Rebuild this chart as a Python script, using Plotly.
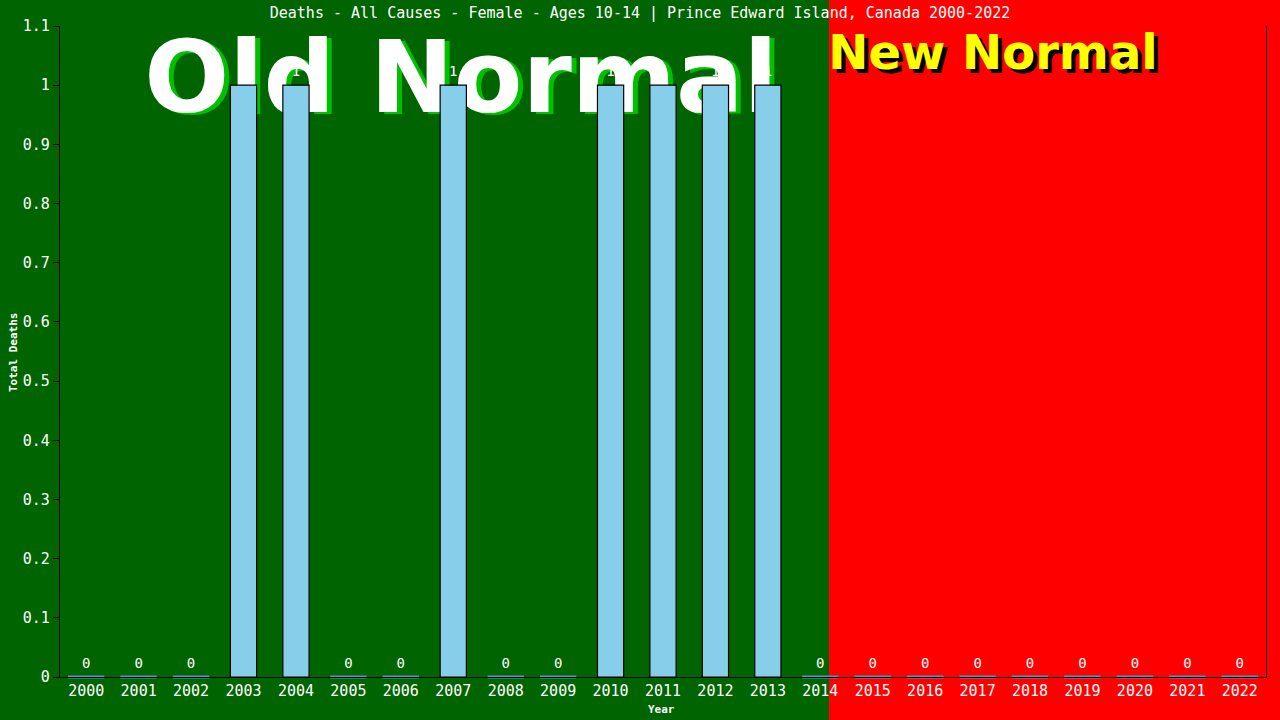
import plotly.graph_objects as go

years = [str(y) for y in range(2000, 2023)]
deaths = [0, 0, 0, 1, 1, 0, 0, 1, 0, 0, 1, 1, 1, 1, 0, 0, 0, 0, 0, 0, 0, 0, 0]
y_ticks = [0, 0.1, 0.2, 0.3, 0.4, 0.5, 0.6, 0.7, 0.8, 0.9, 1, 1.1]
title_text = "Deaths - All Causes - Female - Ages 10-14 | Prince Edward Island, Canada 2000-2022"
x_title = "Year"
y_title = "Total Deaths"

W, H = 1280, 720
ML, MR, MT, MB = 60, 14, 26, 43
PW, PH = W - ML - MR, H - MT - MB

def px_x(p):
    return (p - ML) / PW

def px_y(p):
    return (H - MB - p) / PH

MONO = "DejaVu Sans Mono"
BIG = "DejaVu Sans"

zero_years = [y for y, v in zip(years, deaths) if v == 0]
zero_vals = [v for v in deaths if v == 0]

fig = go.Figure()
fig.add_trace(go.Bar(
    x=years, y=deaths, width=0.5,
    marker=dict(color="#87CEEB", line=dict(color="black", width=1.2)),
    hoverinfo="skip", showlegend=False,
))
fig.add_trace(go.Scatter(
    x=zero_years, y=zero_vals, mode="markers",
    marker=dict(symbol="line-ew", size=26, line=dict(color="#4f94cd", width=3)),
    cliponaxis=False, hoverinfo="skip", showlegend=False,
))
fig.add_trace(go.Scatter(
    x=years, y=deaths, mode="markers+text", text=[str(v) for v in deaths],
    textposition="top center",
    marker=dict(size=8, color="rgba(0,0,0,0)"),
    textfont=dict(family=MONO, size=14, color="white"),
    cliponaxis=False, hoverinfo="skip", showlegend=False,
))

shapes = []
# red "new normal" region
shapes.append(dict(type="rect", xref="paper", yref="paper",
                   x0=px_x(829), x1=px_x(1300), y0=px_y(740), y1=px_y(-20),
                   fillcolor="#FF0000", line=dict(width=0), layer="below"))

def text_shape(cx, cy, txt, size, color):
    return dict(type="rect", xref="paper", yref="paper",
                x0=px_x(cx - 400), x1=px_x(cx + 400),
                y0=px_y(cy + 60), y1=px_y(cy - 60),
                fillcolor="rgba(0,0,0,0)", line=dict(width=0), layer="below",
                label=dict(text=txt, textposition="middle center",
                           font=dict(family=BIG, size=size, color=color, weight="bold")))

old_cx, old_cy = 461, 70
new_cx, new_cy = 993, 49
shapes.append(text_shape(old_cx + 5, old_cy + 2, "Old Normal", 100, "#00C000"))
shapes.append(text_shape(old_cx, old_cy, "Old Normal", 100, "white"))
shapes.append(text_shape(new_cx + 4, new_cy + 4, "New Normal", 48, "black"))
shapes.append(text_shape(new_cx, new_cy, "New Normal", 48, "#FFFF00"))

annotations = [
    dict(text=x_title, xref="paper", yref="paper", x=px_x(661), y=px_y(709),
         xanchor="center", yanchor="middle", showarrow=False,
         font=dict(family=MONO, size=11, color="white", weight="bold")),
    dict(text=y_title, xref="paper", yref="paper", x=px_x(13), y=px_y(352),
         xanchor="center", yanchor="middle", showarrow=False, textangle=-90,
         font=dict(family=MONO, size=11, color="white", weight="bold")),
]

fig.update_layout(
    width=W, height=H,
    margin=dict(l=ML, r=MR, t=MT, b=MB, autoexpand=False),
    paper_bgcolor="#006400", plot_bgcolor="rgba(0,0,0,0)",
    shapes=shapes, annotations=annotations,
    title=dict(text=title_text, x=0.5, xanchor="center", y=1 - 13 / H, yanchor="middle",
               font=dict(family=MONO, size=15, color="white")),
    xaxis=dict(type="category", range=[-0.5, 22.5], showgrid=False, zeroline=False,
               showline=True, linecolor="black", linewidth=1.2, ticks="",
               automargin=False,
               tickfont=dict(family=MONO, size=15, color="white")),
    yaxis=dict(range=[0, 1.1], tickvals=y_ticks, showgrid=False, zeroline=False,
               showline=True, linecolor="black", linewidth=1.2, mirror=True,
               ticks="outside", ticklen=6, tickcolor="black", automargin=False,
               tickfont=dict(family=MONO, size=15, color="white")),
    bargap=0.5,
)

fig.write_html(
    "out.html",
    config={"displayModeBar": False},
    post_script="document.body.style.margin='0';document.body.style.overflow='hidden';",
)
